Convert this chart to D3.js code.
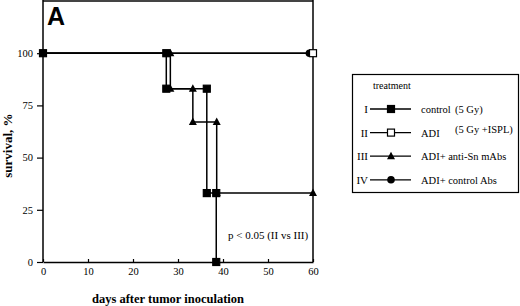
<!DOCTYPE html>
<html>
<head>
<meta charset="utf-8">
<script src="https://cdn.jsdelivr.net/npm/d3@7"></script>
<style>
  body { margin: 0; background: #fff; }
  text { font-family: "Liberation Serif", "Times New Roman", serif; fill: #000; }
</style>
</head>
<body>
<div id="chart"></div>
<script>
// Kaplan-Meier style step data: [day, survival %]
const groupI   = [[0, 100], [27.4, 100], [27.4, 83], [36.4, 83], [36.4, 33], [38.5, 33], [38.5, 0]];
const groupII  = [[0, 100], [60, 100]];
const groupIII = [[0, 100], [28.3, 100], [28.3, 83], [33.3, 83], [33.3, 67], [38.6, 67], [38.6, 33], [60, 33]];
const groupIV  = [[0, 100], [59.2, 100]];

const xTicks = [0, 10, 20, 30, 40, 50, 60];
const yTicks = [0, 25, 50, 75, 100];

const legendNums = ['I', 'II', 'III', 'IV'];
const legendLabels = ['control', 'ADI', 'ADI+ anti-Sn mAbs', 'ADI+ control Abs'];
const legendNotes = ['(5 Gy)', '(5 Gy +ISPL)', '', ''];

const width = 520, height = 306;
const margin = { top: 0, right: 207, bottom: 44, left: 43 };

const svg = d3.select('#chart').append('svg')
    .attr('width', width)
    .attr('height', height);

const xScale = d3.scaleLinear().domain([0, 60]).range([margin.left, width - margin.right]);
const yScale = d3.scaleLinear().domain([0, 125]).range([height - margin.bottom, margin.top + 1]);

// frame
svg.append('line')
    .attr('x1', margin.left).attr('x2', xScale(60))
    .attr('y1', 1).attr('y2', 1)
    .attr('stroke', '#444').attr('stroke-width', 2);
svg.append('line')
    .attr('x1', xScale(60)).attr('x2', xScale(60))
    .attr('y1', 0).attr('y2', yScale(0))
    .attr('stroke', '#000').attr('stroke-width', 1.5);

// axes
const xAxis = d3.axisBottom(xScale).tickValues(xTicks).tickSizeInner(-3).tickSizeOuter(0).tickPadding(6);
const yAxis = d3.axisLeft(yScale).tickValues(yTicks).tickSize(6).tickPadding(4);

const gx = svg.append('g')
    .attr('transform', `translate(0,${yScale(0)})`)
    .call(xAxis);
gx.select('.domain').attr('stroke-width', 1.5);

const gy = svg.append('g')
    .attr('transform', `translate(${margin.left},0)`)
    .call(yAxis);
gy.select('.domain').attr('d', `M0,0V${yScale(0)}`).attr('stroke-width', 1.5);

svg.selectAll('.tick text')
    .style('font-family', '"Liberation Serif", serif')
    .style('font-size', '10.5px');
svg.selectAll('.tick line').attr('stroke-width', 1.2);

// step lines
const line = d3.line()
    .x(d => xScale(d[0]))
    .y(d => yScale(d[1]));

const series = [
    { data: groupIV, marker: 'circle' },
    { data: groupII, marker: 'open' },
    { data: groupIII, marker: 'triangle' },
    { data: groupI, marker: 'square' }
];

series.forEach(s => {
    svg.append('path')
        .datum(s.data)
        .attr('d', line)
        .attr('fill', 'none')
        .attr('stroke', '#000')
        .attr('stroke-width', 1.5);
});

function drawMarker(g, type, x, y) {
    if (type === 'square' || type === 'open') {
        g.append('rect')
            .attr('x', x - 3.5).attr('y', y - 3.5)
            .attr('width', 7).attr('height', 7)
            .attr('fill', type === 'square' ? '#000' : '#fff')
            .attr('stroke', '#000').attr('stroke-width', 1.2);
    } else if (type === 'circle') {
        g.append('circle')
            .attr('cx', x).attr('cy', y).attr('r', 3.8)
            .attr('fill', '#000');
    } else {
        g.append('path')
            .attr('d', `M${x},${y - 4.5}L${x + 4},${y + 3}L${x - 4},${y + 3}Z`)
            .attr('fill', '#000');
    }
}

const markers = svg.append('g');
series.forEach(s => {
    s.data.slice(1).forEach(d => drawMarker(markers, s.marker, xScale(d[0]), yScale(d[1])));
});
drawMarker(markers, 'square', xScale(groupI[0][0]), yScale(groupI[0][1]));

// panel letter
svg.append('text')
    .attr('x', 47).attr('y', 25)
    .style('font-family', '"Liberation Sans", Arial, sans-serif')
    .style('font-size', '25px')
    .style('font-weight', 'bold')
    .text('A');

// axis titles
svg.append('text')
    .attr('transform', `translate(12,${(yScale(0) + yScale(100)) / 2 - 12}) rotate(-90)`)
    .attr('text-anchor', 'middle')
    .style('font-size', '13px')
    .style('font-weight', 'bold')
    .text('survival, %');

svg.append('text')
    .attr('x', 168).attr('y', 303)
    .attr('text-anchor', 'middle')
    .style('font-size', '12.5px')
    .style('font-weight', 'bold')
    .text('days after tumor inoculation');

svg.append('text')
    .attr('x', 228).attr('y', 239)
    .style('font-size', '11px')
    .text('p < 0.05 (II vs III)');

// legend
const legend = svg.append('g');
legend.append('rect')
    .attr('x', 352.5).attr('y', 74.5)
    .attr('width', 166).attr('height', 118)
    .attr('fill', 'none')
    .attr('stroke', '#000').attr('stroke-width', 1.2);

legend.append('text')
    .attr('x', 373).attr('y', 89)
    .style('font-size', '10px')
    .text('treatment');

const legendMarkers = ['square', 'open', 'triangle', 'circle'];
legendNums.forEach((n, i) => {
    const y = 109 + i * 23.6;
    legend.append('text')
        .attr('x', 368).attr('y', y + 4)
        .attr('text-anchor', 'end')
        .style('font-size', '11px')
        .text(n);
    legend.append('line')
        .attr('x1', 370).attr('x2', 411)
        .attr('y1', y).attr('y2', y)
        .attr('stroke', '#000').attr('stroke-width', 1.3);
    drawMarker(legend, legendMarkers[i], 391, y);
    legend.append('text')
        .attr('x', 421).attr('y', y + 4)
        .style('font-size', '10.5px')
        .text(legendLabels[i]);
    if (legendNotes[i]) {
        legend.append('text')
            .attr('x', 455).attr('y', y + (i === 1 ? 0 : 4))
            .style('font-size', '10.5px')
            .text(legendNotes[i]);
    }
});
</script>
</body>
</html>
